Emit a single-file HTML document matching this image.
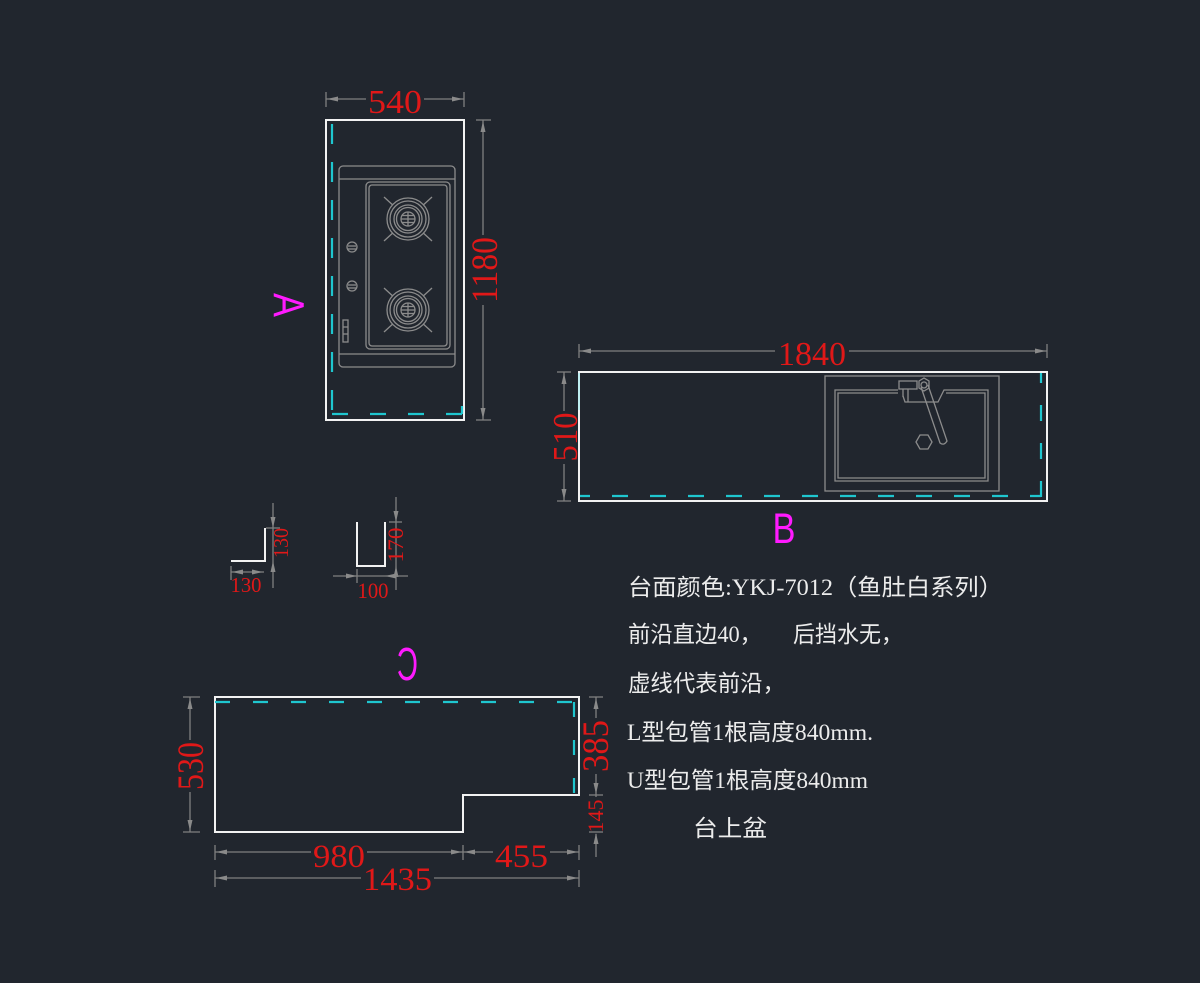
<!DOCTYPE html>
<html>
<head>
<meta charset="utf-8">
<style>
html,body{margin:0;padding:0;background:#21262e;}
svg{display:block;}
.r{fill:#e01818;font-family:"Liberation Serif",serif;}
.d{stroke:#808080;stroke-width:1.3;fill:none;}
.a{fill:#8a8a8a;stroke:none;}
.w{stroke:#f2f2f2;stroke-width:2;fill:none;}
.c{stroke:#1fc6cf;stroke-width:2.2;fill:none;}
.g{stroke:#8c8c8c;stroke-width:1.3;fill:none;}
.m{fill:#ff1aff;font-family:"Liberation Sans",sans-serif;}
.t{fill:#ececec;font-family:"Liberation Serif","Noto Sans CJK SC",sans-serif;font-size:23px;}
</style>
</head>
<body>
<svg width="1200" height="983" viewBox="0 0 1200 983" xmlns="http://www.w3.org/2000/svg">
<rect width="1200" height="983" fill="#21262e"/>

<!-- ===== A : cooktop counter ===== -->
<rect class="w" x="326" y="120" width="138" height="300"/>
<path class="c" d="M332,124 V414" stroke-dasharray="20 18"/>
<path class="c" d="M332,414 H462" stroke-dasharray="16 22"/>
<path class="c" d="M462,414 V406"/>

<!-- cooktop -->
<rect class="g" x="339" y="166" width="116" height="201" rx="4"/>
<line class="g" x1="339" y1="179" x2="455" y2="179"/>
<line class="g" x1="339" y1="354" x2="455" y2="354"/>
<rect class="g" x="366" y="182" width="84" height="167" rx="4"/>
<rect class="g" x="369" y="185" width="78" height="161" rx="3"/>
<!-- knobs -->
<circle class="g" cx="352" cy="247" r="5"/>
<line class="g" x1="348" y1="246" x2="356" y2="246"/><line class="g" x1="348" y1="249" x2="356" y2="249"/>
<circle class="g" cx="352" cy="286" r="5"/>
<line class="g" x1="348" y1="285" x2="356" y2="285"/><line class="g" x1="348" y1="288" x2="356" y2="288"/>
<rect class="g" x="343" y="320" width="5" height="22"/>
<line class="g" x1="343" y1="327" x2="348" y2="327"/><line class="g" x1="343" y1="334" x2="348" y2="334"/>

<!-- burner 1 -->
<g transform="translate(408,219)">
<line class="g" x1="-24" y1="-22" x2="24" y2="22"/>
<line class="g" x1="24" y1="-22" x2="-24" y2="22"/>
<circle cx="0" cy="0" r="21" fill="#21262e" stroke="#8c8c8c" stroke-width="1.3"/>
<circle class="g" r="18"/>
<circle class="g" r="14"/>
<circle class="g" r="11.5"/>
<circle class="g" r="7"/>
<line class="g" x1="-7" y1="0" x2="7" y2="0"/>
<line class="g" x1="0" y1="-7" x2="0" y2="7"/>
<line class="g" x1="-6" y1="-3.5" x2="6" y2="-3.5"/>
<line class="g" x1="-6" y1="3.5" x2="6" y2="3.5"/>
</g>
<!-- burner 2 -->
<g transform="translate(408,310)">
<line class="g" x1="-24" y1="-22" x2="24" y2="22"/>
<line class="g" x1="24" y1="-22" x2="-24" y2="22"/>
<circle cx="0" cy="0" r="21" fill="#21262e" stroke="#8c8c8c" stroke-width="1.3"/>
<circle class="g" r="18"/>
<circle class="g" r="14"/>
<circle class="g" r="11.5"/>
<circle class="g" r="7"/>
<line class="g" x1="-7" y1="0" x2="7" y2="0"/>
<line class="g" x1="0" y1="-7" x2="0" y2="7"/>
<line class="g" x1="-6" y1="-3.5" x2="6" y2="-3.5"/>
<line class="g" x1="-6" y1="3.5" x2="6" y2="3.5"/>
</g>

<!-- dim 540 -->
<line class="d" x1="326" y1="99" x2="366" y2="99"/><line class="d" x1="424" y1="99" x2="464" y2="99"/>
<line class="d" x1="326" y1="92" x2="326" y2="107"/><line class="d" x1="464" y1="92" x2="464" y2="107"/>
<polygon class="a" points="327,99 338,96.5 338,101.5"/><polygon class="a" points="463,99 452,96.5 452,101.5"/>
<text class="r" x="395" y="113" font-size="34" text-anchor="middle" textLength="54" lengthAdjust="spacingAndGlyphs">540</text>

<!-- dim 1180 -->
<line class="d" x1="483" y1="120" x2="483" y2="235"/><line class="d" x1="483" y1="305" x2="483" y2="420"/>
<line class="d" x1="476" y1="120" x2="491" y2="120"/><line class="d" x1="476" y1="420" x2="491" y2="420"/>
<polygon class="a" points="483,121 480.5,132 485.5,132"/><polygon class="a" points="483,419 480.5,408 485.5,408"/>
<text class="r" transform="translate(497,270) rotate(-90)" x="0" y="0" font-size="37" text-anchor="middle" textLength="66" lengthAdjust="spacingAndGlyphs">1180</text>

<text class="m" transform="translate(289,305) rotate(90)" x="0" y="15.5" font-size="44" text-anchor="middle" textLength="24" lengthAdjust="spacingAndGlyphs">A</text>

<!-- ===== B : sink counter ===== -->
<rect class="w" x="579" y="372" width="468" height="129"/>
<path class="c" d="M580,496 H1041" stroke-dasharray="16 22" stroke-dashoffset="6"/>
<path class="c" d="M1041,497 V373" stroke-dasharray="16 22"/>
<line x1="579" y1="373" x2="579" y2="410" stroke="#bfeff2" stroke-width="2"/>

<!-- sink -->
<rect class="g" x="825" y="376" width="174" height="115"/>
<path class="g" d="M898,390 H835 V481 H988 V390 H944 L938,402 H905 L903,396"/>
<path class="g" d="M898,393 H838 V478 H985 V393 H946"/>
<rect class="g" x="899" y="381" width="18" height="8"/>
<line class="g" x1="903" y1="389" x2="903" y2="397"/>
<line class="g" x1="908" y1="389" x2="908" y2="402"/>
<polygon class="g" points="919,381 924,378 929,381 929,388 924,391 919,388"/>
<path class="g" d="M921,387 L940,443 Q944,446 947,441 L928,385"/>
<circle class="g" cx="924" cy="385" r="3"/>
<polygon class="g" points="920,435 928,435 932,442 928,449 920,449 916,442"/>

<!-- dim 1840 -->
<line class="d" x1="579" y1="351" x2="775" y2="351"/><line class="d" x1="849" y1="351" x2="1047" y2="351"/>
<line class="d" x1="579" y1="344" x2="579" y2="358"/><line class="d" x1="1047" y1="344" x2="1047" y2="358"/>
<polygon class="a" points="580,351 591,348.5 591,353.5"/><polygon class="a" points="1046,351 1035,348.5 1035,353.5"/>
<text class="r" x="812" y="365" font-size="34" text-anchor="middle" textLength="68" lengthAdjust="spacingAndGlyphs">1840</text>

<!-- dim 510 -->
<line class="d" x1="564" y1="372" x2="564" y2="411"/><line class="d" x1="564" y1="464" x2="564" y2="501"/>
<line class="d" x1="557" y1="372" x2="571" y2="372"/><line class="d" x1="557" y1="501" x2="571" y2="501"/>
<polygon class="a" points="564,373 561.5,384 566.5,384"/><polygon class="a" points="564,500 561.5,489 566.5,489"/>
<text class="r" transform="translate(577,437) rotate(-90)" x="0" y="0" font-size="35" text-anchor="middle" textLength="49" lengthAdjust="spacingAndGlyphs">510</text>

<text class="m" x="784" y="543" font-size="43" text-anchor="middle" textLength="23" lengthAdjust="spacingAndGlyphs">B</text>

<!-- ===== L pipe ===== -->
<path class="w" d="M231,561 H265 V528"/>
<line class="d" x1="273" y1="503" x2="273" y2="588"/>
<polygon class="a" points="273,528 270.5,517 275.5,517"/><polygon class="a" points="273,561 270.5,572 275.5,572"/>
<line class="d" x1="266" y1="528" x2="280" y2="528"/>
<line class="d" x1="231" y1="572" x2="264" y2="572"/>
<line class="d" x1="231" y1="566" x2="231" y2="580"/>
<polygon class="a" points="232,572 243,569.5 243,574.5"/><polygon class="a" points="263,572 252,569.5 252,574.5"/>
<text class="r" x="246" y="592" font-size="21" text-anchor="middle" textLength="31" lengthAdjust="spacingAndGlyphs">130</text>
<text class="r" transform="translate(288,543) rotate(-90)" x="0" y="0" font-size="21" text-anchor="middle" textLength="30" lengthAdjust="spacingAndGlyphs">130</text>

<!-- ===== U pipe ===== -->
<path class="w" d="M357,522 V566 H385 V522"/>
<line class="d" x1="396" y1="497" x2="396" y2="590"/>
<polygon class="a" points="396,522 393.5,511 398.5,511"/><polygon class="a" points="396,566 393.5,577 398.5,577"/>
<line class="d" x1="389" y1="522" x2="402" y2="522"/>
<line class="d" x1="333" y1="576" x2="408" y2="576"/>
<line class="d" x1="357" y1="569" x2="357" y2="583"/>
<polygon class="a" points="357,576 346,573.5 346,578.5"/><polygon class="a" points="385,576 396,573.5 396,578.5"/>
<text class="r" x="373" y="598" font-size="22" text-anchor="middle" textLength="31" lengthAdjust="spacingAndGlyphs">100</text>
<text class="r" transform="translate(403,545) rotate(-90)" x="0" y="0" font-size="22" text-anchor="middle" textLength="35" lengthAdjust="spacingAndGlyphs">170</text>

<!-- ===== C : L-shaped counter ===== -->
<text class="m" transform="translate(407.5,680) scale(-1,1)" x="0" y="0" font-size="46" text-anchor="middle" textLength="21" lengthAdjust="spacingAndGlyphs">C</text>
<polygon class="w" points="215,697 579,697 579,795 463,795 463,832 215,832"/>
<path class="c" d="M215,702 H574" stroke-dasharray="15 23"/>
<path class="c" d="M574,702 V795" stroke-dasharray="15 23"/>

<!-- dim 530 -->
<line class="d" x1="190" y1="697" x2="190" y2="740"/><line class="d" x1="190" y1="792" x2="190" y2="832"/>
<line class="d" x1="183" y1="697" x2="200" y2="697"/><line class="d" x1="183" y1="832" x2="200" y2="832"/>
<polygon class="a" points="190,698 187.5,709 192.5,709"/><polygon class="a" points="190,831 187.5,820 192.5,820"/>
<text class="r" transform="translate(203,766) rotate(-90)" x="0" y="0" font-size="37" text-anchor="middle" textLength="48" lengthAdjust="spacingAndGlyphs">530</text>

<!-- dim 385 / 145 -->
<line class="d" x1="596" y1="697" x2="596" y2="718"/><line class="d" x1="596" y1="774" x2="596" y2="797"/>
<line class="d" x1="596" y1="834" x2="596" y2="857"/>
<line class="d" x1="589" y1="697" x2="603" y2="697"/><line class="d" x1="589" y1="795" x2="603" y2="795"/><line class="d" x1="589" y1="832" x2="603" y2="832"/>
<polygon class="a" points="596,698 593.5,709 598.5,709"/><polygon class="a" points="596,794 593.5,783 598.5,783"/>
<polygon class="a" points="596,833 593.5,844 598.5,844"/>
<text class="r" transform="translate(608,746) rotate(-90)" x="0" y="0" font-size="37" text-anchor="middle" textLength="52" lengthAdjust="spacingAndGlyphs">385</text>
<text class="r" transform="translate(603,816) rotate(-90)" x="0" y="0" font-size="22" text-anchor="middle" textLength="33" lengthAdjust="spacingAndGlyphs">145</text>

<!-- dim 980 / 455 -->
<line class="d" x1="215" y1="852" x2="311" y2="852"/><line class="d" x1="367" y1="852" x2="493" y2="852"/><line class="d" x1="550" y1="852" x2="579" y2="852"/>
<line class="d" x1="215" y1="845" x2="215" y2="860"/><line class="d" x1="463" y1="845" x2="463" y2="860"/><line class="d" x1="579" y1="845" x2="579" y2="860"/>
<polygon class="a" points="216,852 227,849.5 227,854.5"/><polygon class="a" points="462,852 451,849.5 451,854.5"/>
<polygon class="a" points="464,852 475,849.5 475,854.5"/><polygon class="a" points="578,852 567,849.5 567,854.5"/>
<text class="r" x="339" y="867" font-size="33" text-anchor="middle" textLength="52" lengthAdjust="spacingAndGlyphs">980</text>
<text class="r" x="521.5" y="867" font-size="33" text-anchor="middle" textLength="53" lengthAdjust="spacingAndGlyphs">455</text>

<!-- dim 1435 -->
<line class="d" x1="215" y1="878" x2="361" y2="878"/><line class="d" x1="434" y1="878" x2="579" y2="878"/>
<line class="d" x1="215" y1="870" x2="215" y2="887"/><line class="d" x1="579" y1="870" x2="579" y2="887"/>
<polygon class="a" points="216,878 227,875.5 227,880.5"/><polygon class="a" points="578,878 567,875.5 567,880.5"/>
<text class="r" x="397.5" y="890" font-size="33" text-anchor="middle" textLength="69" lengthAdjust="spacingAndGlyphs">1435</text>

<!-- ===== notes ===== -->
<text class="t" x="628" y="595" textLength="375" lengthAdjust="spacingAndGlyphs">台面颜色:YKJ-7012（鱼肚白系列）</text>
<text class="t" x="628" y="642" textLength="134" lengthAdjust="spacingAndGlyphs">前沿直边40，</text>
<text class="t" x="793" y="642" textLength="110" lengthAdjust="spacingAndGlyphs">后挡水无，</text>
<text class="t" x="628" y="691" textLength="157" lengthAdjust="spacingAndGlyphs">虚线代表前沿，</text>
<text class="t" x="627" y="740" textLength="246" lengthAdjust="spacingAndGlyphs">L型包管1根高度840mm.</text>
<text class="t" x="627" y="788" textLength="241" lengthAdjust="spacingAndGlyphs">U型包管1根高度840mm</text>
<text class="t" x="693" y="836" textLength="74" lengthAdjust="spacingAndGlyphs">台上盆</text>
</svg>
</body>
</html>
